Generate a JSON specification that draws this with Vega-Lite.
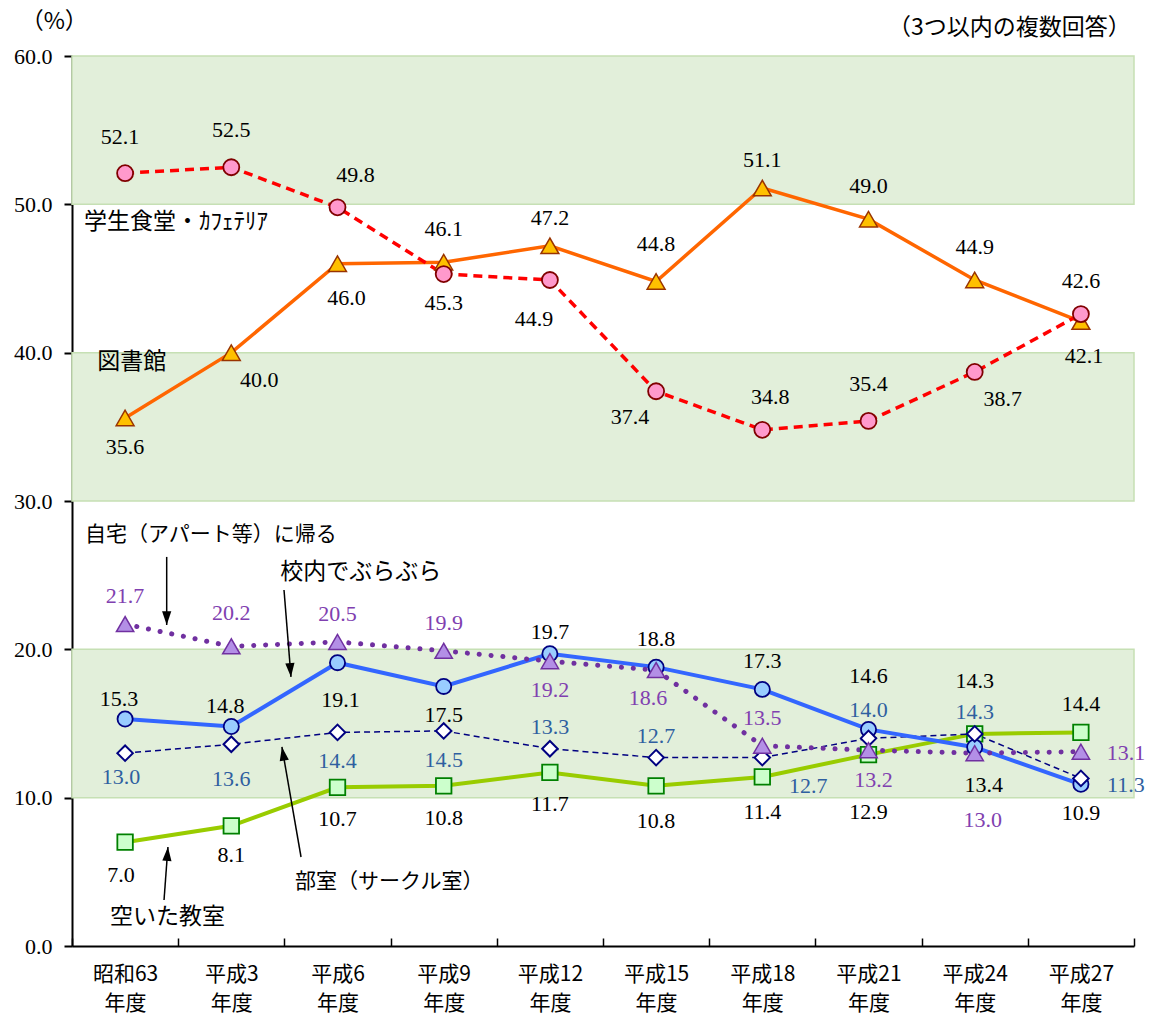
{
  "$schema": "https://vega.github.io/schema/vega-lite/v6.json",
  "width": 1062,
  "height": 890,
  "autosize": "none",
  "padding": {"left": 72, "top": 56, "right": 19, "bottom": 72},
  "background": "white",
  "config": {"view": {"stroke": null}},
  "datasets": {
    "survey": [
      {"series": "cafe", "year": 1988, "v": 52.1}, {"series": "cafe", "year": 1991, "v": 52.5},
      {"series": "cafe", "year": 1994, "v": 49.8}, {"series": "cafe", "year": 1997, "v": 45.3},
      {"series": "cafe", "year": 2000, "v": 44.9}, {"series": "cafe", "year": 2003, "v": 37.4},
      {"series": "cafe", "year": 2006, "v": 34.8}, {"series": "cafe", "year": 2009, "v": 35.4},
      {"series": "cafe", "year": 2012, "v": 38.7}, {"series": "cafe", "year": 2015, "v": 42.6},
      {"series": "lib", "year": 1988, "v": 35.6}, {"series": "lib", "year": 1991, "v": 40.0},
      {"series": "lib", "year": 1994, "v": 46.0}, {"series": "lib", "year": 1997, "v": 46.1},
      {"series": "lib", "year": 2000, "v": 47.2}, {"series": "lib", "year": 2003, "v": 44.8},
      {"series": "lib", "year": 2006, "v": 51.1}, {"series": "lib", "year": 2009, "v": 49.0},
      {"series": "lib", "year": 2012, "v": 44.9}, {"series": "lib", "year": 2015, "v": 42.1},
      {"series": "home", "year": 1988, "v": 21.7}, {"series": "home", "year": 1991, "v": 20.2},
      {"series": "home", "year": 1994, "v": 20.5}, {"series": "home", "year": 1997, "v": 19.9},
      {"series": "home", "year": 2000, "v": 19.2}, {"series": "home", "year": 2003, "v": 18.6},
      {"series": "home", "year": 2006, "v": 13.5}, {"series": "home", "year": 2009, "v": 13.2},
      {"series": "home", "year": 2012, "v": 13.0}, {"series": "home", "year": 2015, "v": 13.1},
      {"series": "roam", "year": 1988, "v": 15.3}, {"series": "roam", "year": 1991, "v": 14.8},
      {"series": "roam", "year": 1994, "v": 19.1}, {"series": "roam", "year": 1997, "v": 17.5},
      {"series": "roam", "year": 2000, "v": 19.7}, {"series": "roam", "year": 2003, "v": 18.8},
      {"series": "roam", "year": 2006, "v": 17.3}, {"series": "roam", "year": 2009, "v": 14.6},
      {"series": "roam", "year": 2012, "v": 13.4}, {"series": "roam", "year": 2015, "v": 10.9},
      {"series": "club", "year": 1988, "v": 13.0}, {"series": "club", "year": 1991, "v": 13.6},
      {"series": "club", "year": 1994, "v": 14.4}, {"series": "club", "year": 1997, "v": 14.5},
      {"series": "club", "year": 2000, "v": 13.3}, {"series": "club", "year": 2003, "v": 12.7},
      {"series": "club", "year": 2006, "v": 12.7}, {"series": "club", "year": 2009, "v": 14.0},
      {"series": "club", "year": 2012, "v": 14.3}, {"series": "club", "year": 2015, "v": 11.3},
      {"series": "room", "year": 1988, "v": 7.0}, {"series": "room", "year": 1991, "v": 8.1},
      {"series": "room", "year": 1994, "v": 10.7}, {"series": "room", "year": 1997, "v": 10.8},
      {"series": "room", "year": 2000, "v": 11.7}, {"series": "room", "year": 2003, "v": 10.8},
      {"series": "room", "year": 2006, "v": 11.4}, {"series": "room", "year": 2009, "v": 12.9},
      {"series": "room", "year": 2012, "v": 14.3}, {"series": "room", "year": 2015, "v": 14.4}
    ],
    "bands": [{"v": 10, "v2": 20}, {"v": 30, "v2": 40}, {"v": 50, "v2": 60}],
    "notes": [
      {"text": "（%）", "year": 1985.05, "v": 62.3},
      {"text": "（3つ以内の複数回答）", "year": 2009.55, "v": 61.9},
      {"text": "学生食堂・ｶﾌｪﾃﾘｱ", "year": 1986.84, "v": 48.8},
      {"text": "図書館", "year": 1987.21, "v": 39.37},
      {"text": "自宅（アパート等）に帰る", "year": 1986.87, "v": 27.71},
      {"text": "校内でぶらぶら", "year": 1992.38, "v": 25.21},
      {"text": "部室（サークル室）", "year": 1992.8, "v": 4.31},
      {"text": "空いた教室", "year": 1987.57, "v": 1.96}
    ],
    "arrows": [
      {"year": 1989.175, "v": 26.23, "year2": 1989.175, "v2": 21.64},
      {"year": 1992.489, "v": 24.0, "year2": 1992.686, "v2": 18.14},
      {"year": 1992.97, "v": 6.0, "year2": 1992.43, "v2": 13.42},
      {"year": 1989.1, "v": 3.1, "year2": 1989.21, "v2": 6.67}
    ]
  },
  "data": {"name": "survey"},
  "encoding": {
    "x": {
      "field": "year", "type": "quantitative",
      "scale": {"domain": [1986.5, 2016.5], "nice": false, "zero": false},
      "axis": {
        "title": null, "grid": false,
        "values": [1986.5, 1988, 1989.5, 1991, 1992.5, 1994, 1995.5, 1997, 1998.5, 2000, 2001.5, 2003, 2004.5, 2006, 2007.5, 2009, 2010.5, 2012, 2013.5, 2015, 2016.5],
        "domainColor": "black", "domainWidth": 2,
        "tickColor": "black", "tickWidth": 1.5, "tickSize": -8,
        "tickOpacity": {"condition": {"test": "datum.value % 1 != 0", "value": 1}, "value": 0},
        "labelExpr": "datum.value % 1 != 0 ? '' : [datum.value == 1988 ? '昭和63' : '平成' + (datum.value - 1988), '年度']",
        "labelFont": "Noto Sans CJK JP", "labelFontSize": 21, "labelColor": "black",
        "labelPadding": 25, "labelLineHeight": 29,
        "labelOverlap": false, "labelFlush": false, "labelBound": false
      }
    },
    "y": {
      "field": "v", "type": "quantitative",
      "scale": {"domain": [0, 60], "nice": false},
      "axis": {
        "title": null, "grid": false,
        "values": [0, 10, 20, 30, 40, 50, 60], "format": ".1f",
        "domainColor": "black", "domainWidth": 2,
        "tickColor": "black", "tickWidth": 2, "tickSize": 8,
        "labelFont": "Times New Roman, Liberation Serif, serif", "labelFontSize": 22, "labelColor": "black",
        "labelPadding": 12
      }
    }
  },
  "layer": [
    {
      "data": {"name": "bands"},
      "mark": {"type": "rect", "fill": "#e2efda", "stroke": "#c6e0b4", "strokeWidth": 1.5},
      "encoding": {
        "x": {"value": 0},
        "x2": {"value": "width"},
        "y": {"field": "v", "type": "quantitative"},
        "y2": {"field": "v2"}
      }
    },
    {"transform": [{"filter": "datum.series == 'room'"}], "mark": {"type": "line", "stroke": "#99cc00", "strokeWidth": 4}},
    {"transform": [{"filter": "datum.series == 'club'"}], "mark": {"type": "line", "stroke": "#000080", "strokeWidth": 1.5, "strokeDash": [6, 4]}},
    {"transform": [{"filter": "datum.series == 'roam'"}], "mark": {"type": "line", "stroke": "#3366ff", "strokeWidth": 4}},
    {"transform": [{"filter": "datum.series == 'home'"}], "mark": {"type": "line", "stroke": "#7030a0", "strokeWidth": 5, "strokeDash": [0.1, 11.8], "strokeCap": "round"}},
    {"transform": [{"filter": "datum.series == 'lib'"}], "mark": {"type": "line", "stroke": "#ff6600", "strokeWidth": 3.5}},
    {"transform": [{"filter": "datum.series == 'cafe'"}], "mark": {"type": "line", "stroke": "#ff0000", "strokeWidth": 3.5, "strokeDash": [9, 6]}},
    {"transform": [{"filter": "datum.series == 'room'"}], "mark": {"type": "point", "shape": "square", "size": 240, "filled": true, "fill": "#ccffcc", "stroke": "#008000", "strokeWidth": 1.8, "opacity": 1}},
    {"transform": [{"filter": "datum.series == 'roam'"}], "mark": {"type": "point", "shape": "circle", "size": 230, "filled": true, "fill": "#99ccff", "stroke": "#000080", "strokeWidth": 1.8, "opacity": 1}},
    {"transform": [{"filter": "datum.series == 'club'"}], "mark": {"type": "point", "shape": "diamond", "size": 240, "filled": true, "fill": "#ffffff", "stroke": "#000080", "strokeWidth": 2, "opacity": 1}},
    {"transform": [{"filter": "datum.series == 'home'"}], "mark": {"type": "point", "shape": "triangle-up", "size": 300, "filled": true, "fill": "#b38fe6", "stroke": "#7030a0", "strokeWidth": 1.5, "opacity": 1}},
    {"transform": [{"filter": "datum.series == 'lib'"}], "mark": {"type": "point", "shape": "triangle-up", "size": 320, "filled": true, "fill": "#ffc000", "stroke": "#993300", "strokeWidth": 1.5, "opacity": 1}},
    {"transform": [{"filter": "datum.series == 'cafe'"}], "mark": {"type": "point", "shape": "circle", "size": 256, "filled": true, "fill": "#ff99cc", "stroke": "#800000", "strokeWidth": 1.8, "opacity": 1}},
    {
      "encoding": {
        "text": {"field": "v", "type": "quantitative", "format": ".1f"},
        "color": {"field": "series", "type": "nominal", "legend": null, "scale": {"domain": ["cafe", "lib", "home", "roam", "club", "room"], "range": ["#000000", "#000000", "#8040b0", "#000000", "#2f5fa0", "#000000"]}}
      },
      "layer": [
        {"transform": [{"filter": "indexof(['cafe1991','cafe2009','lib2003'], datum.series + datum.year) >= 0"}], "mark": {"type": "text", "font": "Liberation Serif", "fontSize": 22, "baseline": "middle", "dy": -37}},
        {"transform": [{"filter": "indexof(['cafe1988'], datum.series + datum.year) >= 0"}], "mark": {"type": "text", "font": "Liberation Serif", "fontSize": 22, "baseline": "middle", "dx": -5, "dy": -36}},
        {"transform": [{"filter": "indexof(['cafe2015','lib1997','lib2009','lib2012','home1991'], datum.series + datum.year) >= 0"}], "mark": {"type": "text", "font": "Liberation Serif", "fontSize": 22, "baseline": "middle", "dy": -33}},
        {"transform": [{"filter": "indexof(['cafe1994'], datum.series + datum.year) >= 0"}], "mark": {"type": "text", "font": "Liberation Serif", "fontSize": 22, "baseline": "middle", "dx": 18, "dy": -32}},
        {"transform": [{"filter": "indexof(['cafe2006'], datum.series + datum.year) >= 0"}], "mark": {"type": "text", "font": "Liberation Serif", "fontSize": 22, "baseline": "middle", "dx": 8, "dy": -33}},
        {"transform": [{"filter": "indexof(['lib2000','lib2006','home1988','home1994','home1997','home2006','roam2003','roam2006','club2009','room2015'], datum.series + datum.year) >= 0"}], "mark": {"type": "text", "font": "Liberation Serif", "fontSize": 22, "baseline": "middle", "dy": -28}},
        {"transform": [{"filter": "indexof(['roam2000','club2000','club2003','club2012'], datum.series + datum.year) >= 0"}], "mark": {"type": "text", "font": "Liberation Serif", "fontSize": 22, "baseline": "middle", "dy": -22}},
        {"transform": [{"filter": "indexof(['roam1988','roam1991'], datum.series + datum.year) >= 0"}], "mark": {"type": "text", "font": "Liberation Serif", "fontSize": 22, "baseline": "middle", "dx": -6, "dy": -20}},
        {"transform": [{"filter": "indexof(['roam2009','room2012'], datum.series + datum.year) >= 0"}], "mark": {"type": "text", "font": "Liberation Serif", "fontSize": 22, "baseline": "middle", "dy": -53}},
        {"transform": [{"filter": "indexof(['cafe1997','lib1988','home2000','roam1997','roam2015','club1994','club1997','room1991'], datum.series + datum.year) >= 0"}], "mark": {"type": "text", "font": "Liberation Serif", "fontSize": 22, "baseline": "middle", "dy": 29}},
        {"transform": [{"filter": "indexof(['room1994','room1997','room2000'], datum.series + datum.year) >= 0"}], "mark": {"type": "text", "font": "Liberation Serif", "fontSize": 22, "baseline": "middle", "dy": 32}},
        {"transform": [{"filter": "indexof(['club1991','room2003','room2006'], datum.series + datum.year) >= 0"}], "mark": {"type": "text", "font": "Liberation Serif", "fontSize": 22, "baseline": "middle", "dy": 35}},
        {"transform": [{"filter": "indexof(['room1988'], datum.series + datum.year) >= 0"}], "mark": {"type": "text", "font": "Liberation Serif", "fontSize": 22, "baseline": "middle", "dx": -4, "dy": 33}},
        {"transform": [{"filter": "indexof(['lib2015'], datum.series + datum.year) >= 0"}], "mark": {"type": "text", "font": "Liberation Serif", "fontSize": 22, "baseline": "middle", "dx": 3, "dy": 34}},
        {"transform": [{"filter": "indexof(['lib1994'], datum.series + datum.year) >= 0"}], "mark": {"type": "text", "font": "Liberation Serif", "fontSize": 22, "baseline": "middle", "dx": 9, "dy": 34}},
        {"transform": [{"filter": "indexof(['roam1994'], datum.series + datum.year) >= 0"}], "mark": {"type": "text", "font": "Liberation Serif", "fontSize": 22, "baseline": "middle", "dx": 3, "dy": 37}},
        {"transform": [{"filter": "indexof(['cafe2000'], datum.series + datum.year) >= 0"}], "mark": {"type": "text", "font": "Liberation Serif", "fontSize": 22, "baseline": "middle", "dx": -16, "dy": 39}},
        {"transform": [{"filter": "indexof(['cafe2003'], datum.series + datum.year) >= 0"}], "mark": {"type": "text", "font": "Liberation Serif", "fontSize": 22, "baseline": "middle", "dx": -26, "dy": 26}},
        {"transform": [{"filter": "indexof(['cafe2012','lib1991'], datum.series + datum.year) >= 0"}], "mark": {"type": "text", "font": "Liberation Serif", "fontSize": 22, "baseline": "middle", "dx": 28, "dy": 27}},
        {"transform": [{"filter": "indexof(['home2003'], datum.series + datum.year) >= 0"}], "mark": {"type": "text", "font": "Liberation Serif", "fontSize": 22, "baseline": "middle", "dx": -8, "dy": 28}},
        {"transform": [{"filter": "indexof(['home2009'], datum.series + datum.year) >= 0"}], "mark": {"type": "text", "font": "Liberation Serif", "fontSize": 22, "baseline": "middle", "dx": 5, "dy": 30}},
        {"transform": [{"filter": "indexof(['roam2012'], datum.series + datum.year) >= 0"}], "mark": {"type": "text", "font": "Liberation Serif", "fontSize": 22, "baseline": "middle", "dx": 9, "dy": 38}},
        {"transform": [{"filter": "indexof(['home2012'], datum.series + datum.year) >= 0"}], "mark": {"type": "text", "font": "Liberation Serif", "fontSize": 22, "baseline": "middle", "dx": 8, "dy": 67}},
        {"transform": [{"filter": "indexof(['room2009'], datum.series + datum.year) >= 0"}], "mark": {"type": "text", "font": "Liberation Serif", "fontSize": 22, "baseline": "middle", "dy": 57}},
        {"transform": [{"filter": "indexof(['club1988'], datum.series + datum.year) >= 0"}], "mark": {"type": "text", "font": "Liberation Serif", "fontSize": 22, "baseline": "middle", "dx": -4, "dy": 24}},
        {"transform": [{"filter": "indexof(['club2006'], datum.series + datum.year) >= 0"}], "mark": {"type": "text", "font": "Liberation Serif", "fontSize": 22, "baseline": "middle", "dx": 46, "dy": 28}},
        {"transform": [{"filter": "indexof(['home2015'], datum.series + datum.year) >= 0"}], "mark": {"type": "text", "font": "Liberation Serif", "fontSize": 22, "baseline": "middle", "dx": 45, "dy": 1}},
        {"transform": [{"filter": "indexof(['club2015'], datum.series + datum.year) >= 0"}], "mark": {"type": "text", "font": "Liberation Serif", "fontSize": 22, "baseline": "middle", "dx": 45, "dy": 7}}
      ]
    },
    {
      "data": {"name": "arrows"},
      "mark": {"type": "rule", "color": "black", "strokeWidth": 1.5},
      "encoding": {"x2": {"field": "year2"}, "y2": {"field": "v2"}}
    },
    {
      "data": {"name": "arrows"},
      "transform": [
        {"calculate": "atan2((datum.year2 - datum.year) * 35.4, (datum.v2 - datum.v) * 14.833) * 180 / PI", "as": "heading"}
      ],
      "mark": {"type": "point", "shape": "M0,0L0.5,1.5L-0.5,1.5Z", "size": 340, "filled": true, "color": "black", "opacity": 1, "strokeWidth": 0},
      "encoding": {
        "x": {"field": "year2", "type": "quantitative"},
        "y": {"field": "v2", "type": "quantitative"},
        "angle": {"field": "heading", "type": "quantitative", "scale": null}
      }
    },
    {
      "data": {"name": "notes"},
      "transform": [{"filter": "indexof(['自宅（アパート等）に帰る', '部室（サークル室）'], datum.text) >= 0"}],
      "mark": {"type": "text", "align": "left", "baseline": "middle", "font": "Noto Sans CJK JP", "fontSize": 21, "color": "black"},
      "encoding": {"text": {"field": "text", "type": "nominal"}}
    },
    {
      "data": {"name": "notes"},
      "transform": [{"filter": "indexof(['自宅（アパート等）に帰る', '部室（サークル室）'], datum.text) < 0"}],
      "mark": {"type": "text", "align": "left", "baseline": "middle", "font": "Noto Sans CJK JP", "fontSize": 23, "color": "black"},
      "encoding": {"text": {"field": "text", "type": "nominal"}}
    }
  ]
}
